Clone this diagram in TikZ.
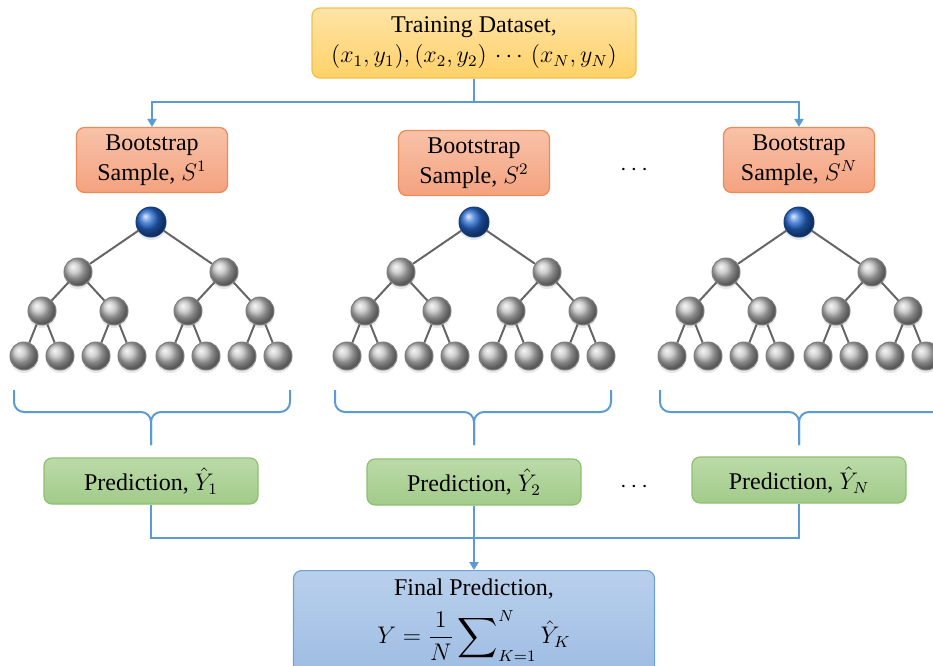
\documentclass[tikz,border=0pt]{standalone}
\usepackage{fontspec}
\setmainfont{Liberation Serif}
\usetikzlibrary{positioning,arrows.meta,shadows}

\definecolor{linkblue}{HTML}{5B9BD5}
\definecolor{datatop}{HTML}{FFE4A6}
\definecolor{databot}{HTML}{FFD168}
\definecolor{dataedge}{HTML}{F4C04A}
\definecolor{sampletop}{HTML}{F8C2A8}
\definecolor{samplebot}{HTML}{F4A27F}
\definecolor{sampleedge}{HTML}{ED8A55}
\definecolor{predtop}{HTML}{BBDAA8}
\definecolor{predbot}{HTML}{A2CB8A}
\definecolor{prededge}{HTML}{8DC071}
\definecolor{finaltop}{HTML}{B9D0EC}
\definecolor{finalbot}{HTML}{9CBBE2}
\definecolor{finaledge}{HTML}{6FA3D8}
\definecolor{rootblue}{HTML}{2468D0}

% a larger summation sign for the final formula
\newcommand{\bigsum}{\mathop{\vcenter{\hbox{\scalebox{1.4}{$\displaystyle\sum$}}}}\nolimits}

\begin{document}
\begin{tikzpicture}[
x=0.5pt,y=-0.5pt,
>={Triangle[width=4.5pt,length=4pt]},
every node/.style={font=\fontsize{12}{15}\selectfont},
box/.style={draw,rounded corners=4pt,align=center,line width=0.6pt},
databox/.style={box,draw=dataedge,top color=datatop,bottom color=databot,minimum width=162pt,minimum height=35pt},
samplebox/.style={box,draw=sampleedge,top color=sampletop,bottom color=samplebot,minimum width=75.5pt,minimum height=32.5pt},
predbox/.style={box,draw=prededge,top color=predtop,bottom color=predbot,minimum width=107pt,minimum height=23pt},
finalbox/.style={box,draw=finaledge,top color=finaltop,bottom color=finalbot,minimum width=180.5pt,minimum height=55pt},
link/.style={draw=linkblue,line width=1pt},
branch/.style={draw=black!60,line width=1pt},
ball/.style={circle,minimum size=14pt,inner sep=0pt,line width=0.5pt,
  drop shadow={opacity=0.18,shadow xshift=0pt,shadow yshift=-1.5pt}},
rootball/.style={ball,minimum size=15pt,draw=rootblue!60!black,ball color=rootblue},
leafball/.style={ball,draw=black!50,ball color=gray!50}
]

\clip (0,0) rectangle (933,665);

% data and bootstrap samples
\node[databox] (data) at (474,43) {Training Dataset,\\$(x_1,y_1),(x_2,y_2)\,\cdots\,(x_N,y_N)$};
\node[samplebox] (s1) at (152,160) {Bootstrap\\Sample, $S^1$};
\node[samplebox] (s2) at (474,163) {Bootstrap\\Sample, $S^2$};
\node[samplebox] (s3) at (799,160) {Bootstrap\\Sample, $S^N$};
\node (gap1) at (634,170) {$\cdots$};

\coordinate (split) at (474,102);
\path[link] (data) -- (split);
\path[link,->] (split) -| (s1);
\path[link,->] (split) -| (s3);

% trees
\foreach \t/\cx in {1/151,2/474,3/799} {
	\node[rootball] (t\t) at (\cx,222) {};
	\foreach \a in {0,1} {
		\pgfmathsetmacro\xa{\cx+(\a-0.5)*146}
		\node[leafball] (t\t-\a) at (\xa,272) {};
		\path[branch] (t\t) -- (t\t-\a);
		\foreach \b in {0,1} {
			\pgfmathsetmacro\xb{\xa+(\b-0.5)*72}
			\node[leafball] (t\t-\a\b) at (\xb,311) {};
			\path[branch] (t\t-\a) -- (t\t-\a\b);
			\foreach \k in {0,1} {
				\pgfmathsetmacro\xk{\xb+(\k-0.5)*36}
				\node[leafball] (t\t-\a\b\k) at (\xk,356) {};
				\path[branch] (t\t-\a\b) -- (t\t-\a\b\k);
			}
		}
	}
}

% braces under the leaves
\foreach \t/\cx/\xl/\xr in {1/151/14/290,2/474/335/611,3/799/660/950} {
	\coordinate (brace\t) at (\cx,445);
	\path[link,rounded corners=5pt] (\xl,390) -- (\xl,412) -- (\cx,412) -- (brace\t);
	\path[link,rounded corners=5pt] (\xr,390) -- (\xr,412) -- (\cx,412) -- (brace\t);
}

% predictions
\node[predbox] (p1) at (151,481) {Prediction, $\hat{Y}_1$};
\node[predbox] (p2) at (474,482) {Prediction, $\hat{Y}_2$};
\node[predbox] (p3) at (799,480) {Prediction, $\hat{Y}_N$};
\node (gap2) at (634,487) {$\cdots$};

\node[finalbox,anchor=north] (final) at (474,570) {};
\node[align=center,inner sep=0pt,below=4pt of final.north] (finaltext)
	{Final Prediction,\\[5pt]$\displaystyle Y=\frac{1}{N}\bigsum_{K=1}^{N}\hat{Y}_K$};

\coordinate (merge) at (474,538);
\path[link] (p1) |- (merge);
\path[link] (p3) |- (merge);
\path[link,->] (p2) -- (final);

\end{tikzpicture}
\end{document}
